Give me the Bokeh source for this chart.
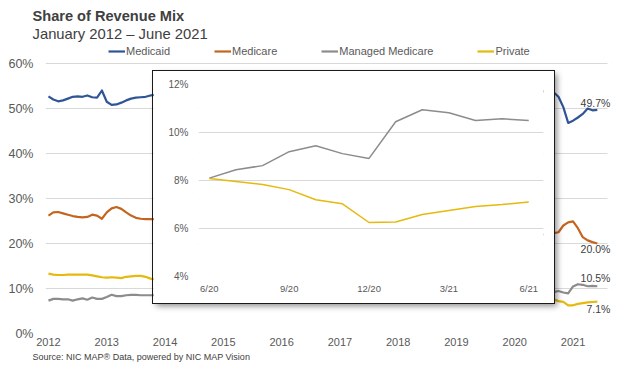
from bokeh.plotting import figure
from bokeh.layouts import column
from bokeh.models import Range1d, Label, Legend, LegendItem, Title, BoxAnnotation
from bokeh.embed import file_html
from bokeh.resources import INLINE

# ---------------- data ----------------
title = "Share of Revenue Mix"
subtitle = "January 2012 \u2013 June 2021"
source_note = "Source: NIC MAP\u00ae Data, powered by NIC MAP Vision"

series_names = ["Medicaid", "Medicare", "Managed Medicare", "Private"]

# monthly values, Jan 2012 - Nov 2013 (visible left of the inset)
early_start = (2012, 1)
medicaid_early = [52.7, 52.0, 51.6, 51.8, 52.2, 52.6, 52.7, 52.6, 52.9, 52.5, 52.4, 54.0,
                  51.5, 50.8, 50.9, 51.3, 51.8, 52.2, 52.4, 52.5, 52.6, 52.9, 53.0]
medicare_early = [26.2, 26.9, 27.0, 26.7, 26.4, 26.1, 25.9, 25.8, 25.9, 26.4, 26.2, 25.5,
                  26.9, 27.8, 28.1, 27.7, 26.9, 26.2, 25.7, 25.5, 25.4, 25.4, 25.4]
managed_early = [7.3, 7.7, 7.7, 7.6, 7.6, 7.3, 7.6, 7.8, 7.5, 8.0, 7.7, 7.7,
                 8.1, 8.6, 8.3, 8.3, 8.5, 8.6, 8.6, 8.5, 8.5, 8.5, 8.5]
private_early = [13.3, 13.1, 13.0, 13.0, 13.1, 13.1, 13.1, 13.1, 13.1, 12.9, 12.7, 12.5,
                 12.4, 12.5, 12.4, 12.3, 12.6, 12.7, 12.8, 12.8, 12.6, 12.2, 12.0]

# monthly values, Jun 2020 - Jun 2021 (visible right of the inset, and in the inset)
late_start = (2020, 6)
medicaid_late = [53.8, 53.8, 53.8, 53.6, 52.6, 50.3, 46.8, 47.3, 48.0, 48.8, 50.0, 49.6, 49.7]
medicare_late = [22.0, 22.0, 22.1, 22.3, 22.5, 24.0, 24.7, 24.9, 23.4, 21.4, 20.7, 20.3, 20.0]
managed_late = [8.10, 8.45, 8.62, 9.20, 9.45, 9.12, 8.92, 10.45, 10.95, 10.82, 10.50, 10.57, 10.50]
private_late = [8.08, 7.96, 7.83, 7.62, 7.20, 7.03, 6.25, 6.27, 6.58, 6.75, 6.92, 7.00, 7.10]

year_ticks = [2012, 2013, 2014, 2015, 2016, 2017, 2018, 2019, 2020, 2021]
y_ticks = [0, 10, 20, 30, 40, 50, 60]
y_tick_labels = ["0%", "10%", "20%", "30%", "40%", "50%", "60%"]

inset_month_ticks = [0, 3, 6, 9, 12]
inset_month_labels = ["6/20", "9/20", "12/20", "3/21", "6/21"]
inset_y_ticks = [4, 6, 8, 10, 12]
inset_y_labels = ["4%", "6%", "8%", "10%", "12%"]

# ---------------- styles ----------------
FONT = "Liberation Sans"
TXT = "#595959"
DARK = "#404040"
GRID = "#d9d9d9"
colors = {"Medicaid": "#2f5597", "Medicare": "#c4651f",
          "Managed Medicare": "#8c8c8c", "Private": "#e6b90f"}


def month_xs(start, n):
    y, m = start
    return [y + (m - 1 + k) / 12.0 for k in range(n)]


x_early = month_xs(early_start, len(medicaid_early))
x_late = month_xs(late_start, len(medicaid_late))

# frame: x 45..620 px, y 42..333 px (60% gridline at 63 px, legend sits in the top strip)
p = figure(width=623, height=366, x_range=Range1d(2011.949, 2021.677), y_range=Range1d(0, 64.667),
           output_backend="svg", toolbar_location=None,
           min_border_left=45, min_border_right=3, min_border_top=42, min_border_bottom=33)
p.title_location = None
p.outline_line_color = None
p.background_fill_color = "white"
p.border_fill_color = "white"
p.xgrid.grid_line_color = None
p.ygrid.grid_line_color = GRID
p.yaxis.ticker = y_ticks
p.yaxis.major_label_overrides = {t: l for t, l in zip(y_ticks, y_tick_labels)}
p.xaxis.ticker = year_ticks
for ax in (p.xaxis[0], p.yaxis[0]):
    ax.axis_line_color = None
    ax.major_tick_line_color = None
    ax.minor_tick_line_color = None
    ax.major_tick_out = 0
    ax.major_tick_in = 0
    ax.minor_tick_out = 0
    ax.major_label_text_font = FONT
    ax.major_label_text_color = TXT
p.yaxis.major_label_text_font_size = "12.5px"
p.yaxis.major_label_standoff = 12
p.xaxis.major_label_text_font_size = "11px"
p.xaxis.major_label_standoff = 4

# white mask so the gridlines stop where the reference's do
p.add_layout(BoxAnnotation(left=562, left_units="screen", fill_color="white", fill_alpha=1.0,
                           line_color=None, level="underlay"))

data = {
    "Medicaid": (medicaid_early, medicaid_late),
    "Medicare": (medicare_early, medicare_late),
    "Managed Medicare": (managed_early, managed_late),
    "Private": (private_early, private_late),
}
items = []
for name in series_names:
    e, l = data[name]
    r1 = p.line(x_early, e, line_color=colors[name], line_width=2.2, line_join="round")
    p.line(x_late, l, line_color=colors[name], line_width=2.2, line_join="round")
    items.append(LegendItem(label=name, renderers=[r1]))

legend = Legend(items=items, orientation="horizontal", location=(63, 276),
                padding=0, margin=0, spacing=44, glyph_width=17, glyph_height=12,
                label_standoff=1, label_height=12, label_text_font=FONT,
                label_text_font_size="11px", label_text_color=TXT,
                background_fill_alpha=0, border_line_alpha=0)
p.add_layout(legend, "center")

p.add_layout(Title(text=subtitle, align="left", offset=-13, standoff=1,
                   text_font=FONT, text_font_size="14.8px", text_font_style="normal",
                   text_color=DARK), "above")
p.add_layout(Title(text=title, align="left", offset=-13, standoff=0,
                   text_font=FONT, text_font_size="14.6px", text_font_style="bold",
                   text_color=DARK), "above")
p.add_layout(Title(text=source_note, align="left", offset=-13, standoff=3,
                   text_font=FONT, text_font_size="9px", text_font_style="normal",
                   text_color=DARK), "below")

# end-of-line value labels
end_offsets = {"Medicaid": 7, "Medicare": -5, "Managed Medicare": 8, "Private": -7}
for name in series_names:
    v = data[name][1][-1]
    p.add_layout(Label(x=x_late[-1], y=v, text=f"{v:.1f}%", x_offset=13,
                       y_offset=end_offsets[name], text_align="right",
                       text_baseline="middle", text_font=FONT, text_font_size="10.5px",
                       text_color=DARK))

# ---------------- inset ----------------
months = list(range(len(managed_late)))
q = figure(width=401, height=232, x_range=Range1d(-0.406, 12.554), y_range=Range1d(4, 12),
           output_backend="svg", toolbar_location=None,
           min_border_left=39, min_border_right=11, min_border_top=13, min_border_bottom=27)
q.title_location = None
q.margin = (71 - 366, 0, 0, 153)
q.styles = {"outline": "1px solid #1a1a1a",
            "box-shadow": "3px 3px 6px rgba(0,0,0,0.45)"}
q.outline_line_color = None
q.background_fill_color = "white"
q.border_fill_color = "white"
q.xgrid.grid_line_color = None
q.ygrid.grid_line_color = GRID
q.yaxis.ticker = inset_y_ticks
q.yaxis.major_label_overrides = {t: l for t, l in zip(inset_y_ticks, inset_y_labels)}
q.xaxis.ticker = inset_month_ticks
q.xaxis.major_label_overrides = {t: l for t, l in zip(inset_month_ticks, inset_month_labels)}
for ax in (q.xaxis[0], q.yaxis[0]):
    ax.axis_line_color = None
    ax.major_tick_line_color = None
    ax.minor_tick_line_color = None
    ax.major_tick_out = 0
    ax.major_tick_in = 0
    ax.minor_tick_out = 0
    ax.major_label_text_font = FONT
    ax.major_label_text_color = TXT
q.yaxis.major_label_text_font_size = "10px"
q.yaxis.major_label_standoff = 10
q.xaxis.major_label_text_font_size = "9.5px"
q.xaxis.major_label_standoff = 6

q.line(months, managed_late, line_color=colors["Managed Medicare"], line_width=1.5)
q.line(months, private_late, line_color=colors["Private"], line_width=1.5)

layout = column(p, q)
open("out.html", "w").write(file_html(layout, INLINE))
